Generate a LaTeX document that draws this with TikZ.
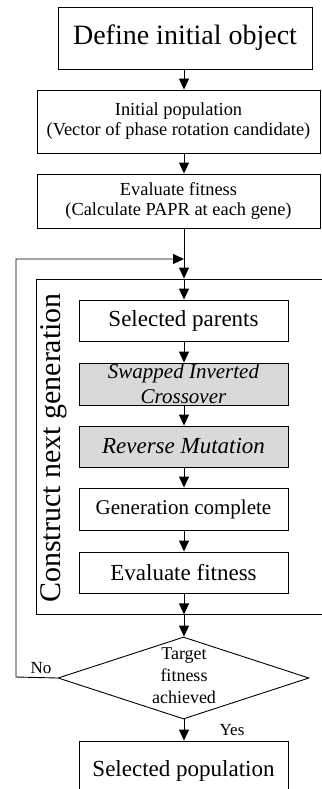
\documentclass[tikz,border=0pt]{standalone}
\usepackage{fontspec}
\setmainfont{Liberation Serif}
\usetikzlibrary{arrows.meta,shapes.geometric}
\begin{document}
\begin{tikzpicture}[x=1pt,y=1pt,
  box/.style={draw,line width=0.9pt,inner sep=0pt,align=center,rectangle},
  ibox/.style={box,minimum width=209pt},
  grey/.style={fill=black!15},
  arr/.style={line width=0.9pt,-{Triangle[width=10pt,length=11pt]}},
  lbl/.style={inner sep=0pt,font=\fontsize{18}{22}\selectfont}]
\useasboundingbox (0,0) rectangle (321,-789);
\coordinate (ax) at (184,0);
% top boxes
\node[box,minimum width=254pt,minimum height=62pt,font=\fontsize{28}{32}\selectfont] (def) at (185,-38) {Define initial object};
\node[box,minimum width=283pt,minimum height=63pt,font=\fontsize{18.4}{20}\selectfont] (init) at (178.5,-121.5) {Initial population\\(Vector of phase rotation candidate)};
\node[box,minimum width=283pt,minimum height=54pt,font=\fontsize{18.4}{19.5}\selectfont] (eval1) at (178.5,-201) {Evaluate fitness\\(Calculate PAPR at each gene)};
% frame
\node[box,minimum width=304pt,minimum height=335pt] (frame) at (188,-446.5) {};
\node[rotate=90,inner sep=0pt,font=\fontsize{30}{32}\selectfont] (flabel) at (54,-448) {Construct next generation};
% inner boxes
\node[ibox,minimum height=41pt,font=\fontsize{23}{27}\selectfont] (sp) at (183.5,-320.5) {Selected parents};
\node[ibox,grey,minimum height=42pt,font=\fontsize{21}{25}\selectfont\itshape] (swap) at (183.5,-384) {Swapped Inverted\\Crossover};
\node[ibox,grey,minimum height=41pt,font=\fontsize{23}{27}\selectfont\itshape] (rev) at (183.5,-446.5) {Reverse Mutation};
\node[ibox,minimum height=42pt,font=\fontsize{21}{25}\selectfont] (gen) at (183.5,-509) {Generation complete};
\node[ibox,minimum height=41pt,font=\fontsize{23}{27}\selectfont] (eval2) at (183.5,-572.5) {Evaluate fitness};
% decision
\node[draw,diamond,line width=0.9pt,inner sep=0pt,minimum width=251pt,minimum height=82pt] (dia) at (183.5,-678) {};
\node[lbl,align=center] (diat) at (184,-676) {Target\\fitness\\achieved};
\node[ibox,minimum height=59pt,font=\fontsize{23}{27}\selectfont] (sel) at (183.5,-770.5) {Selected population};
\node[lbl,font=\fontsize{17}{20}\selectfont] (no) at (41,-668) {No};
\node[lbl,font=\fontsize{17}{20}\selectfont] (yes) at (232,-730) {Yes};
% loop coordinates
\coordinate (lb) at (16,-677);
\coordinate (lt) at (16,-259);
\coordinate (jn) at (184,-259);
% connectors
\draw[arr] (ax |- def.south) -- (ax |- init.north);
\draw[arr] (ax |- init.south) -- (ax |- eval1.north);
\draw[arr] (ax |- eval1.south) -- (ax |- frame.north);
\draw[arr] (ax |- frame.north) -- (ax |- sp.north);
\draw[arr] (ax |- sp.south) -- (ax |- swap.north);
\draw[arr] (ax |- swap.south) -- (ax |- rev.north);
\draw[arr] (ax |- rev.south) -- (ax |- gen.north);
\draw[arr] (ax |- gen.south) -- (ax |- eval2.north);
\draw[arr] (ax |- eval2.south) -- (ax |- frame.south);
\draw[arr] (ax |- frame.south) -- (ax |- dia.north);
\draw[arr] (ax |- dia.south) -- (ax |- sel.north);
\draw[arr] (dia.west) -- (lb) -- (lt) -- (jn);
\end{tikzpicture}
\end{document}
